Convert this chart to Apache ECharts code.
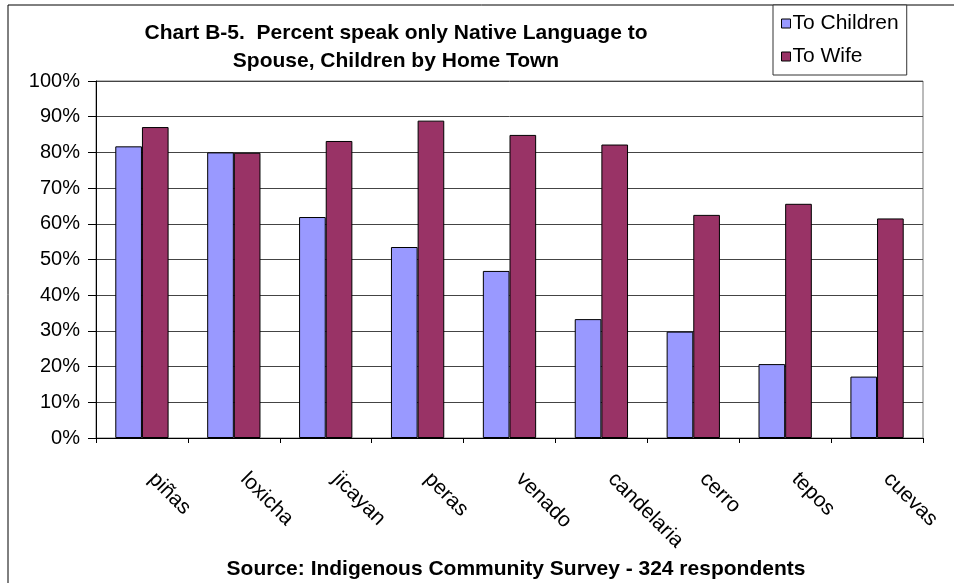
<!DOCTYPE html>
<html><head><meta charset="utf-8">
<script src="https://cdn.jsdelivr.net/npm/echarts@6/dist/echarts.min.js"></script>
<style>html,body{margin:0;padding:0;background:#fff}#c{width:954px;height:583px}</style>
</head><body><div id="c"></div>
<script>
const categories = ['piñas','loxicha','jicayan','peras','venado','candelaria','cerro','tepos','cuevas'];
const toChildren = [81.7, 80.0, 61.9, 53.5, 46.8, 33.3, 29.8, 20.7, 17.2];
const toWife = [87.1, 79.9, 83.2, 88.9, 84.9, 82.2, 62.5, 65.6, 61.5];
const yTicks = [0,10,20,30,40,50,60,70,80,90,100];
const titleLines = ['Chart B-5.  Percent speak only Native Language to','Spouse, Children by Home Town'];
const sourceText = 'Source: Indigenous Community Survey - 324 respondents';

const FONT = '"Liberation Sans", Arial, sans-serif';
const chart = echarts.init(document.getElementById('c'), null, {renderer:'canvas'});
chart.setOption({
  animation:false,
  backgroundColor:'#fff',
  textStyle:{fontFamily:FONT},
  title:[{
    text:titleLines.join('\n'), left:391, top:14, textAlign:'center',
    textStyle:{fontFamily:FONT,fontWeight:'bold',fontSize:21,lineHeight:28,color:'#000'}
  },{
    text:sourceText, left:511, top:554, textAlign:'center',
    textStyle:{fontFamily:FONT,fontWeight:'bold',fontSize:21,color:'#000'}
  }],
  legend:{
    orient:'vertical', left:773, top:5,
    padding:[8,8,8,8], itemGap:12, itemWidth:9, itemHeight:9,
    borderColor:'#333', borderWidth:1, backgroundColor:'#fff',
    icon:'rect',
    itemStyle:{borderColor:'#000',borderWidth:1},
    textStyle:{fontFamily:FONT,fontSize:21,color:'#000',lineHeight:20,padding:[0,0,0,-3]},
    data:['To Children','To Wife']
  },
  graphic:[{type:'rect',shape:{x:8,y:5,width:1200,height:1200},style:{fill:'none',stroke:'#000',lineWidth:1},silent:true,z:-10}],
  grid:{left:96,right:31,top:81,bottom:145,show:true,borderColor:'#777',borderWidth:1,backgroundColor:'#fff'},
  xAxis:{
    type:'category', data:categories, boundaryGap:true,
    axisLine:{lineStyle:{color:'#000',width:1}},
    axisTick:{show:true,length:5,lineStyle:{color:'#000'},alignWithLabel:false},
    axisLabel:{rotate:-45,margin:28,padding:[0,0,0,14],fontFamily:FONT,fontSize:21,color:'#000',interval:0}
  },
  yAxis:{
    type:'value', min:0, max:100, interval:10,
    axisLine:{show:true,lineStyle:{color:'#000',width:1}},
    axisTick:{show:true,length:8,inside:false,lineStyle:{color:'#000'}},
    axisLabel:{formatter:v=>v+'%',fontFamily:FONT,fontSize:20,color:'#000',margin:16},
    splitLine:{show:true,lineStyle:{color:'#444',width:1}}
  },
  series:[{
    name:'To Children', type:'bar', data:toChildren, barGap:'0%', barCategoryGap:'42%',
    itemStyle:{color:'#9999FF',borderColor:'#000',borderWidth:1}
  },{
    name:'To Wife', type:'bar', data:toWife, barGap:'0%', barCategoryGap:'42%',
    itemStyle:{color:'#993366',borderColor:'#000',borderWidth:1}
  }]
});
</script></body></html>
